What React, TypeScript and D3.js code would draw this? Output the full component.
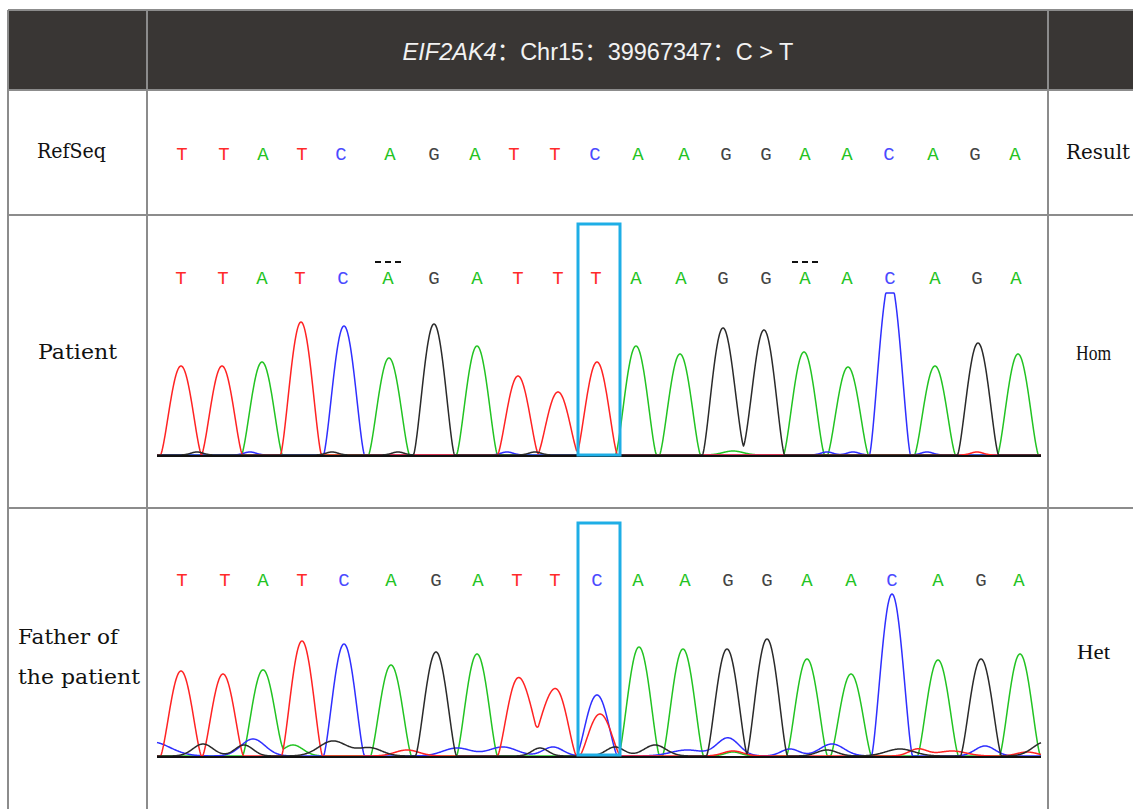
import React from 'react';
import * as d3 from 'd3';

// ---------- data ----------
const headerGene = 'EIF2AK4';
const headerRest = '：Chr15：39967347：C > T';

const refSeqCalls = ['T','T','A','T','C','A','G','A','T','T','C','A','A','G','G','A','A','C','A','G','A'];
const patientCalls = ['T','T','A','T','C','A','G','A','T','T','T','A','A','G','G','A','A','C','A','G','A'];
const fatherCalls = ['T','T','A','T','C','A','G','A','T','T','C','A','A','G','G','A','A','C','A','G','A'];

// scan positions of base calls
const refSeqScans = [25,67,106,145,184,233,277,318,357,398,438,481,527,569,609,648,690,732,776,818,858];
const patientScans = [24,66,105,143,186,231,277,320,361,401,439,479,524,566,609,648,690,733,778,820,859];
const fatherScans = [25,68,106,145,187,234,279,321,360,398,440,481,528,571,610,650,694,735,781,824,862];

const patientMarked = [5, 15];
const variantIndex = 10;

const rowLabels = ['RefSeq', 'Patient'];
const fatherLabel = ['Father of', 'the patient'];
const results = ['Result', 'Hom', 'Het'];

// peaks: [channel, scan, signal]
const patientPeaks: [string, number, number][] = [
  ['T',24,890],['T',65,890],['A',105,930],['T',144,1330],['C',187,1290],['A',232,970],
  ['G',277,1310],['A',320,1090],['T',361,790],['T',401,630],['T',440,930],['A',479,1090],
  ['A',523,1010],['G',566,1270],['G',607,1250],['A',647,1030],['A',691,880],['C',733,1750],
  ['A',778,890],['G',821,1120],['A',861,1010],
];
// small background signals: [channel, scan, signal, width]
const patientNoise: [string, number, number, number][] = [
  ['G',40,30,6],['C',93,30,6],['G',175,30,6],['G',241,30,6],['C',350,30,6],['G',378,30,6],
  ['A',576,40,10],['C',670,30,6],['C',696,30,6],['C',770,30,6],['T',820,30,6],
  ['G',586,90,6],
];
const patientSaturation = 1620;

const fatherPeaks: [string, number, number][] = [
  ['T',24,850],['T',66,820],['A',106,860],['T',145,1150],['C',187,1120],['A',234,910],
  ['G',279,1040],['A',320,1020],['T',361,770],['T',399,660],['C',440,610],['T',443,420],
  ['A',482,1090],['A',526,1070],['G',570,1070],['G',610,1170],['A',650,970],['A',694,820],
  ['C',735,1620],['A',781,960],['G',824,970],['A',863,1020],
];
const fatherNoise: [string, number, number, number][] = [
  ['C',-5,140,18],['G',46,120,10],['G',87,110,9],['C',96,170,12],['A',136,110,10],
  ['G',176,150,14],['G',213,80,12],['T',250,60,12],['C',300,80,14],['C',346,90,14],
  ['T',380,220,8],['G',383,80,8],['C',396,90,10],['G',458,90,9],['G',498,110,11],
  ['C',530,60,16],['C',571,180,11],['T',576,50,10],['A',576,40,8],['C',633,70,9],
  ['G',670,60,10],['C',675,120,12],['G',743,70,14],['T',761,70,9],['T',795,50,14],
  ['C',828,100,10],['T',870,40,10],['G',888,140,12],
];
const fatherSaturation = 5000;

// ---------- styles ----------
const W = 1133, H = 809;
const baseColor: Record<string, string> = { A: '#22c322', C: '#2f2fff', G: '#2a2a2a', T: '#ff2323' };
const letterColor: Record<string, string> = { A: '#22c322', C: '#4b4bff', G: '#444444', T: '#ff2a2a' };
const gridColor = '#8c8c8c';
const headerFill = '#393634';
const boxColor = '#1eaee6';
const peakHalfBase = 20.5;
const peakPower = 1.4;
const channels = ['A', 'C', 'T', 'G'];

const x = d3.scaleLinear().domain([0, 884]).range([157, 1041]);

function peakShape(d: number) {
  const a = Math.abs(d);
  if (a >= peakHalfBase) return 0;
  return Math.pow(Math.cos((Math.PI * a) / (2 * peakHalfBase)), peakPower);
}

function traces(peaks: [string, number, number][], noise: [string, number, number, number][], sat: number, baseline: number) {
  const y = d3.scaleLinear().domain([0, 1000]).range([baseline, baseline - 100]);
  const scans = d3.range(0, 884.01, 0.5);
  const line = d3.line<number[]>().x(d => x(d[0])).y(d => y(d[1]));
  return channels.map(ch => {
    const ps = peaks.filter(p => p[0] === ch);
    const ns = noise.filter(p => p[0] === ch);
    const pts = scans.map(s => {
      let v = 0;
      for (const p of ps) v += p[2] * peakShape(s - p[1]);
      for (const p of ns) v += p[2] * Math.exp(-((s - p[1]) ** 2) / (2 * p[3] * p[3]));
      return [s, Math.min(v, sat)];
    });
    return { ch, d: line(pts) as string };
  });
}

const labelFont = '"DejaVu Serif", "Liberation Serif", serif';
const resultFont = '"Liberation Serif", "Times New Roman", serif';
const letterFont = '"Liberation Mono", "DejaVu Sans Mono", monospace';

function Letters({ calls, scans, yBase }: { calls: string[]; scans: number[]; yBase: number }) {
  return (
    <g fontFamily={letterFont} fontSize={19} textAnchor="middle">
      {calls.map((c, i) => (
        <text key={i} x={x(scans[i])} y={yBase} fill={letterColor[c]}>{c}</text>
      ))}
    </g>
  );
}

export default function App() {
  const pT = traces(patientPeaks, patientNoise, patientSaturation, 455);
  const fT = traces(fatherPeaks, fatherNoise, fatherSaturation, 756);
  const rows = [10, 90, 215, 508];
  return (
    <svg width={W} height={H} style={{ position: 'absolute', left: 0, top: 0, background: '#fff' }}>
      <rect x={0} y={0} width={W} height={H} fill="#fff" />
      {/* header */}
      <rect x={8} y={10} width={W - 8} height={80} fill={headerFill} />
      <text x={598} y={60} textAnchor="middle" fill="#f2f2f2" fontSize={23.5}
        fontFamily='"Liberation Sans", Arial, "Noto Sans CJK SC", sans-serif'>
        <tspan fontStyle="italic">{headerGene}</tspan>
        <tspan>{headerRest}</tspan>
      </text>
      {/* grid */}
      <g stroke={gridColor} strokeWidth={2}>
        {rows.map((r, i) => <line key={i} x1={8} x2={W} y1={r} y2={r} />)}
        {[8, 147, 1048].map((c, i) => <line key={i} x1={c} x2={c} y1={10} y2={H} />)}
      </g>
      {/* labels */}
      <g fontFamily={labelFont} fontSize={20} fill="#111">
        <text x={37} y={158} textLength={69} lengthAdjust="spacingAndGlyphs">{rowLabels[0]}</text>
        <text x={38} y={359} textLength={79} lengthAdjust="spacingAndGlyphs">{rowLabels[1]}</text>
        <text x={18} y={644} textLength={100} lengthAdjust="spacingAndGlyphs">{fatherLabel[0]}</text>
        <text x={18} y={684} textLength={122} lengthAdjust="spacingAndGlyphs">{fatherLabel[1]}</text>
        <text x={1066} y={159} textLength={64} lengthAdjust="spacingAndGlyphs">{results[0]}</text>
      </g>
      <g fontFamily={resultFont} fontSize={22} fill="#111">
        <text x={1076} y={360} textLength={35} lengthAdjust="spacingAndGlyphs">{results[1]}</text>
        <text x={1077} y={659} textLength={33} lengthAdjust="spacingAndGlyphs">{results[2]}</text>
      </g>
      {/* base letters */}
      <Letters calls={refSeqCalls} scans={refSeqScans} yBase={160} />
      <Letters calls={patientCalls} scans={patientScans} yBase={284} />
      <Letters calls={fatherCalls} scans={fatherScans} yBase={586} />
      {patientMarked.map(i => (
        <line key={i} x1={x(patientScans[i]) - 13} x2={x(patientScans[i]) + 13} y1={262} y2={262}
          stroke="#111" strokeWidth={2} strokeDasharray="6,4" />
      ))}
      {/* traces */}
      <g fill="none" strokeWidth={1.5} strokeLinejoin="round">
        {pT.map(t => <path key={'p' + t.ch} d={t.d} stroke={baseColor[t.ch]} />)}
        {fT.map(t => <path key={'f' + t.ch} d={t.d} stroke={baseColor[t.ch]} />)}
      </g>
      <line x1={157} x2={1041} y1={456} y2={456} stroke="#111" strokeWidth={2} />
      <line x1={157} x2={1041} y1={757} y2={757} stroke="#111" strokeWidth={2} />
      {/* variant boxes */}
      <g fill="none" stroke={boxColor} strokeWidth={3}>
        <rect x={x(patientScans[variantIndex]) - 18} y={224} width={42} height={231} />
        <rect x={x(fatherScans[variantIndex]) - 19} y={523} width={42} height={232} />
      </g>
    </svg>
  );
}
